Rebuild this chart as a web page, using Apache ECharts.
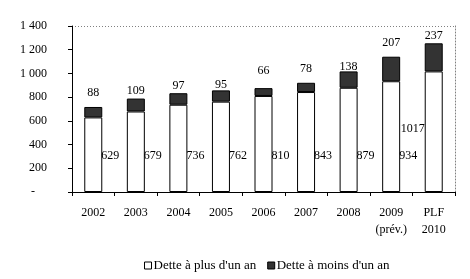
<!DOCTYPE html>
<html><head><meta charset="utf-8">
<script src="https://cdn.jsdelivr.net/npm/echarts@6/dist/echarts.min.js"></script>
<style>html,body{margin:0;padding:0;background:#fff}#c{width:470px;height:279px}</style>
</head><body><div id="c"></div>
<script>
var categories = ['2002','2003','2004','2005','2006','2007','2008','2009\n(prév.)','PLF\n2010'];
var longTerm = [629, 679, 736, 762, 810, 843, 879, 934, 1017];
var shortTerm = [88, 109, 97, 95, 66, 78, 138, 207, 237];
var yTicks = [0, 200, 400, 600, 800, 1000, 1200, 1400];
var seriesNames = ["Dette à plus d'un an", "Dette à moins d'un an"];

var FONT = 'Liberation Serif';
var topGap = [14, 8, 7, 6, 17, 14, 5, 14, 7];

function fmt(v){
  if (v === 0) return '-    ';
  var s = String(v);
  return s.length > 3 ? s.slice(0, s.length-3) + ' ' + s.slice(-3) : s;
}

var chart = echarts.init(document.getElementById('c'), null, {renderer:'canvas'});
var lastIdx = longTerm.length - 1;
var splitColors = yTicks.map(function(t, i){ return i === yTicks.length-1 ? '#808080' : 'rgba(0,0,0,0)'; });

chart.setOption({
  animation: false,
  textStyle: {fontFamily: FONT},
  grid: {left: 72, right: 15, top: 26, bottom: 87},
  legend: {
    left: 139, top: 254, itemWidth: 7, itemHeight: 7, itemGap: 11,
    textStyle: {fontFamily: FONT, fontSize: 13, color: '#000', padding: [0,0,0,-3]},
    data: [
      {name: seriesNames[0], icon: 'rect', itemStyle: {color: '#fff', borderColor: '#000', borderWidth: 1}},
      {name: seriesNames[1], icon: 'rect', itemStyle: {color: '#333', borderColor: '#000', borderWidth: 1}}
    ]
  },
  xAxis: {
    type: 'category', data: categories, boundaryGap: true,
    axisLine: {lineStyle: {color: '#000', width: 1}},
    axisTick: {show: true, inside: false, length: 4, lineStyle: {color: '#000'}, alignWithLabel: false},
    axisLabel: {fontFamily: FONT, fontSize: 12, color: '#000', margin: 12, lineHeight: 17, interval: 0}
  },
  yAxis: [{
    type: 'value', min: 0, max: 1400, interval: 200,
    axisLine: {show: true, lineStyle: {color: '#000', width: 1}},
    axisTick: {show: true, length: 4, lineStyle: {color: '#000'}},
    axisLabel: {fontFamily: FONT, fontSize: 12, color: '#000', margin: 25, formatter: fmt},
    splitLine: {show: true, lineStyle: {color: splitColors, type: [1, 2], width: 1}}
  }, {
    type: 'value', min: 0, max: 1400, interval: 200, position: 'right',
    axisLine: {show: true, lineStyle: {color: '#808080', type: [1, 2], width: 1}},
    axisTick: {show: false}, axisLabel: {show: false}, splitLine: {show: false}
  }],
  series: [{
    name: seriesNames[0], type: 'bar', stack: 'd', barWidth: 18,
    itemStyle: {color: '#fff', borderColor: '#000', borderWidth: 1},
    data: longTerm.map(function(v, i){
      var lab = i === lastIdx
        ? {show: true, position: [0, '100%'], align: 'right', verticalAlign: 'middle', offset: [0, -63]}
        : {show: true, position: ['100%', '100%'], align: 'left', verticalAlign: 'middle', offset: [-1, -36]};
      return {value: v, label: lab};
    }),
    label: {show: true, fontFamily: FONT, fontSize: 12, color: '#000'}
  }, {
    name: seriesNames[1], type: 'bar', stack: 'd', barWidth: 18,
    itemStyle: {color: '#333', borderColor: '#000', borderWidth: 1},
    data: shortTerm.map(function(v, i){
      return {value: v, label: {show: true, position: 'top', verticalAlign: 'middle', distance: topGap[i]}};
    }),
    label: {show: true, fontFamily: FONT, fontSize: 12, color: '#000'}
  }]
});
</script></body></html>
